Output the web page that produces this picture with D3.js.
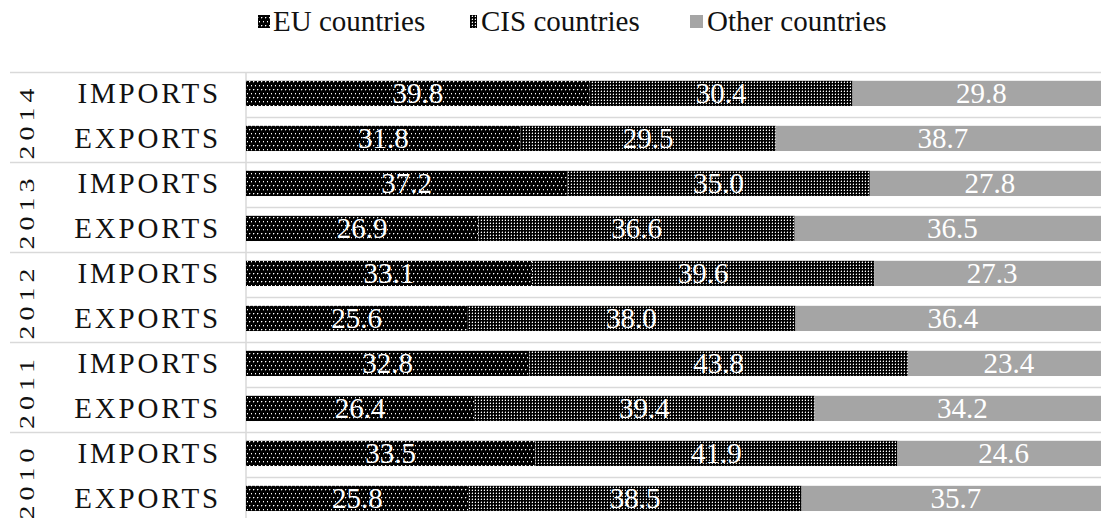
<!DOCTYPE html>
<html>
<head>
<meta charset="utf-8">
<script src="https://cdn.jsdelivr.net/npm/d3@7"></script>
<style>
  html, body { margin: 0; padding: 0; background: #fff; }
  svg { display: block; }
  svg text { font-family: "Liberation Serif", "Times New Roman", serif; }
</style>
</head>
<body>
<svg id="chart" width="1101" height="518"></svg>
<script>
// Trade structure by partner group, shares in percent
const years = ["2014", "2013", "2012", "2011", "2010"];
const flows = ["IMPORTS", "EXPORTS"];
const seriesNames = ["EU countries", "CIS countries", "Other countries"];
const euShare    = [39.8, 31.8, 37.2, 26.9, 33.1, 25.6, 32.8, 26.4, 33.5, 25.8];
const cisShare   = [30.4, 29.5, 35.0, 36.6, 39.6, 38.0, 43.8, 39.4, 41.9, 38.5];
const otherShare = [29.8, 38.7, 27.8, 36.5, 27.3, 36.4, 23.4, 34.2, 24.6, 35.7];
const xTicks = [0, 100];

const FONT = "Liberation Serif, Times New Roman, serif";
const svg = d3.select("#chart");
const W = 1101, H = 518;

// Fill patterns for the two dark series
const defs = svg.append("defs");
const pEU = defs.append("pattern").attr("id", "patEU")
  .attr("patternUnits", "userSpaceOnUse").attr("width", 4).attr("height", 8);
pEU.append("rect").attr("width", 4).attr("height", 8).attr("fill", "#000");
[[1, 1], [3, 5]].forEach(([px, py]) => {
  pEU.append("rect").attr("x", px).attr("y", py).attr("width", 1).attr("height", 1).attr("fill", "#ffffff");
  pEU.append("rect").attr("x", px + 1).attr("y", py).attr("width", 1).attr("height", 1).attr("fill", "#555");
  pEU.append("rect").attr("x", px).attr("y", py + 1).attr("width", 1).attr("height", 1).attr("fill", "#555");
});

const pCIS = defs.append("pattern").attr("id", "patCIS")
  .attr("patternUnits", "userSpaceOnUse").attr("width", 3).attr("height", 3);
pCIS.append("rect").attr("width", 3).attr("height", 3).attr("fill", "#000");
pCIS.append("rect").attr("x", 1).attr("y", 1).attr("width", 1).attr("height", 1).attr("fill", "#ffffff");
pCIS.append("rect").attr("x", 1).attr("y", 0).attr("width", 1).attr("height", 1).attr("fill", "#6a6a6a");
pCIS.append("rect").attr("x", 0).attr("y", 1).attr("width", 1).attr("height", 1).attr("fill", "#3a3a3a");

const fills = ["url(#patEU)", "url(#patCIS)", "#a5a5a5"];

// Rows: one per year/flow pair, top to bottom
const rows = [];
years.forEach((yr, i) => flows.forEach((fl, j) => {
  const k = i * 2 + j;
  rows.push({ key: yr + "-" + fl, year: yr, flow: fl,
    "EU countries": euShare[k], "CIS countries": cisShare[k], "Other countries": otherShare[k] });
}));

const plotTop = 72.5, rowH = 45;
const y = d3.scaleBand().domain(rows.map(r => r.key))
  .range([plotTop, plotTop + rowH * rows.length]).paddingInner(0.44).paddingOuter(0.22).align(0.42);
const x = d3.scaleLinear().domain(d3.extent(xTicks)).range([246, 1110]);

const stack = d3.stack().keys(seriesNames)(rows);

// Grid lines between rows
const grid = svg.append("g").attr("stroke", "#d9d9d9").attr("stroke-width", 1.5);
for (let k = 0; k <= rows.length; k++) {
  const yy = plotTop + k * rowH;
  grid.append("line").attr("x1", k % 2 === 0 ? 10 : 246).attr("x2", W)
    .attr("y1", yy).attr("y2", yy);
}
grid.append("line").attr("x1", 246).attr("x2", 246).attr("y1", plotTop).attr("y2", H);

// Bars
stack.forEach((s, si) => {
  svg.append("g").attr("fill", fills[si])
    .selectAll("rect").data(s).join("rect")
    .attr("x", d => x(d[0]))
    .attr("width", d => x(d[1]) - x(d[0]))
    .attr("y", d => y(d.data.key))
    .attr("height", y.bandwidth());
});

// Value labels
stack.forEach((s) => {
  svg.append("g").attr("fill", "#fff").attr("font-family", FONT).attr("font-size", 29)
    .attr("text-anchor", "middle")
    .selectAll("text").data(s).join("text")
    .attr("x", d => (x(d[0]) + x(d[1])) / 2)
    .attr("y", d => y(d.data.key) + y.bandwidth() / 2 + 10)
    .text(d => (d[1] - d[0]).toFixed(1));
});

// Flow labels
svg.append("g").attr("fill", "#111").attr("font-family", FONT).attr("font-size", 29)
  .attr("text-anchor", "end").attr("letter-spacing", 2.8)
  .selectAll("text").data(rows).join("text")
  .attr("x", 221)
  .attr("y", d => y(d.key) + y.bandwidth() / 2 + 10)
  .text(d => d.flow);

// Year labels, rotated
svg.append("g").attr("fill", "#111").attr("font-family", FONT).attr("font-size", 28)
  .attr("text-anchor", "middle").attr("letter-spacing", 5)
  .selectAll("text").data(years).join("text")
  .attr("transform", (d, i) => `translate(34,${plotTop + (i * 2 + 1) * rowH + 4}) rotate(-90) scale(1,0.72)`)
  .text(d => d);

// Legend
const legendItems = [
  { name: seriesNames[0], fill: fills[0], sx: 258, sw: 12, tx: 273 },
  { name: seriesNames[1], fill: fills[1], sx: 470, sw: 7, tx: 481 },
  { name: seriesNames[2], fill: fills[2], sx: 690, sw: 13, tx: 707 }
];
const lg = svg.append("g");
legendItems.forEach(it => {
  lg.append("rect").attr("x", it.sx).attr("y", 15).attr("width", it.sw).attr("height", 13).attr("fill", it.fill);
  lg.append("text").attr("x", it.tx).attr("y", 31).attr("font-family", FONT).attr("font-size", 29)
    .attr("fill", "#111").text(it.name);
});
</script>
</body>
</html>
